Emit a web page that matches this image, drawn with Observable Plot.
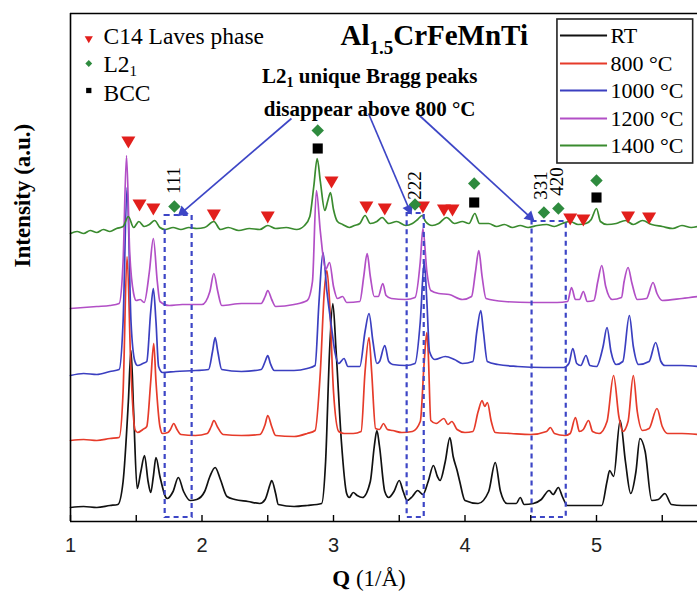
<!DOCTYPE html>
<html>
<head>
<meta charset="utf-8">
<script src="https://cdn.jsdelivr.net/npm/d3@7"></script>
<script src="https://cdn.jsdelivr.net/npm/@observablehq/plot@0.6"></script>
<style>
  html, body { margin: 0; padding: 0; background: #fff; }
  #chart { width: 697px; height: 594px; }
</style>
</head>
<body>
<div id="chart"></div>
<script>
// ---- Data (Q in 1/Å, intensity in arbitrary units incl. vertical offset) ----
const rt = [[1.00,14],[1.10,15],[1.20,14],[1.30,16],[1.36,17],[1.40,40],[1.44,120],[1.46,171],[1.48,110],[1.507,33],[1.535,50],[1.563,66],[1.59,40],[1.61,29],[1.63,45],[1.65,64],[1.68,45],[1.735,23],[1.78,30],[1.82,44],[1.86,30],[1.91,21],[1.96,22],[2.02,30],[2.06,45],[2.10,54],[2.14,42],[2.19,25],[2.25,22],[2.35,20],[2.44,18],[2.48,22],[2.52,38],[2.53,41],[2.56,28],[2.58,17],[2.70,15],[2.80,16],[2.91,18],[2.94,60],[2.97,170],[2.995,218],[3.02,170],[3.06,80],[3.10,28],[3.12,24],[3.15,29],[3.18,26],[3.22,24],[3.28,40],[3.31,75],[3.33,91],[3.35,75],[3.39,30],[3.42,24],[3.46,30],[3.50,41],[3.53,30],[3.56,21],[3.60,25],[3.64,31],[3.68,27],[3.72,40],[3.76,56],[3.79,45],[3.81,41],[3.85,60],[3.885,84],[3.91,65],[3.94,51],[3.96,40],[4.00,21],[4.10,18],[4.18,30],[4.23,59],[4.27,30],[4.32,18],[4.39,18],[4.42,24],[4.45,17],[4.52,18],[4.58,22],[4.64,31],[4.67,27],[4.71,34],[4.74,25],[4.78,16],[4.90,16],[5.04,16],[5.08,40],[5.10,51],[5.13,45],[5.18,101],[5.22,60],[5.26,28],[5.30,50],[5.33,83],[5.37,70],[5.42,21],[5.47,22],[5.52,28],[5.57,17],[5.65,16],[5.77,16]];
const c800 = [[1.00,81],[1.10,82],[1.20,81],[1.30,83],[1.37,84],[1.40,130],[1.43,265],[1.46,150],[1.49,92],[1.51,89],[1.55,92],[1.58,95],[1.61,140],[1.633,178],[1.65,140],[1.68,95],[1.70,88],[1.74,89],[1.76,92],[1.785,98],[1.81,92],[1.84,87],[1.95,86],[2.04,88],[2.07,95],[2.09,101],[2.12,94],[2.16,87],[2.30,86],[2.44,87],[2.48,97],[2.50,106],[2.53,95],[2.56,86],[2.70,85],[2.80,88],[2.86,91],[2.90,150],[2.93,230],[2.95,251],[2.97,220],[3.00,130],[3.04,90],[3.08,88],[3.15,88],[3.21,90],[3.24,150],[3.27,184],[3.29,150],[3.32,93],[3.35,92],[3.38,98],[3.41,92],[3.45,91],[3.52,89],[3.60,90],[3.66,100],[3.69,160],[3.71,189],[3.72,170],[3.74,101],[3.78,98],[3.84,103],[3.87,97],[3.90,100],[3.94,92],[4.00,89],[4.06,90],[4.10,110],[4.13,121],[4.15,115],[4.17,119],[4.20,100],[4.23,89],[4.35,88],[4.50,87],[4.62,90],[4.65,94],[4.68,88],[4.76,86],[4.80,88],[4.84,104],[4.87,90],[4.90,92],[4.94,101],[4.97,90],[5.02,88],[5.08,100],[5.13,146],[5.17,105],[5.20,90],[5.24,100],[5.28,146],[5.31,110],[5.35,91],[5.40,93],[5.46,113],[5.50,95],[5.54,88],[5.65,88],[5.77,87]];
const c1000 = [[1.00,146],[1.10,148],[1.20,147],[1.30,150],[1.37,152],[1.40,200],[1.43,334],[1.46,200],[1.49,160],[1.51,156],[1.55,158],[1.58,160],[1.61,210],[1.63,233],[1.65,200],[1.67,155],[1.70,149],[1.80,150],[1.95,151],[2.05,152],[2.08,170],[2.10,184],[2.12,170],[2.15,152],[2.30,150],[2.45,152],[2.48,160],[2.50,166],[2.52,158],[2.55,151],[2.70,151],[2.80,153],[2.86,156],[2.89,220],[2.92,269],[2.95,230],[2.985,194],[3.01,170],[3.04,158],[3.08,163],[3.11,155],[3.20,155],[3.24,190],[3.27,208],[3.30,180],[3.33,158],[3.35,160],[3.39,176],[3.42,160],[3.45,157],[3.55,156],[3.62,158],[3.66,200],[3.69,260],[3.71,220],[3.73,170],[3.77,162],[3.85,165],[3.92,162],[3.98,158],[4.06,160],[4.09,190],[4.12,211],[4.14,190],[4.17,160],[4.25,157],[4.40,155],[4.60,154],[4.75,154],[4.79,158],[4.82,173],[4.85,158],[4.88,156],[4.92,166],[4.95,156],[5.00,155],[5.05,175],[5.08,194],[5.11,170],[5.15,157],[5.20,160],[5.25,206],[5.28,175],[5.32,157],[5.40,160],[5.45,179],[5.49,160],[5.52,156],[5.65,156],[5.77,155]];
const c1200 = [[1.00,213],[1.10,214],[1.20,215],[1.30,216],[1.37,218],[1.40,260],[1.426,366],[1.45,270],[1.48,228],[1.50,221],[1.53,222],[1.56,219],[1.60,250],[1.63,283],[1.66,240],[1.68,220],[1.75,216],[1.85,217],[2.00,217],[2.06,230],[2.09,248],[2.12,230],[2.15,216],[2.30,218],[2.45,218],[2.48,225],[2.50,231],[2.53,222],[2.56,215],[2.70,217],[2.80,221],[2.84,240],[2.87,331],[2.90,290],[2.94,252],[2.97,259],[3.00,235],[3.03,223],[3.07,225],[3.10,219],[3.20,220],[3.23,245],[3.256,268],[3.28,245],[3.31,225],[3.34,225],[3.375,238],[3.40,226],[3.44,223],[3.55,222],[3.62,224],[3.66,260],[3.68,293],[3.71,250],[3.74,231],[3.80,228],[3.88,227],[3.98,222],[4.05,225],[4.08,250],[4.105,271],[4.13,245],[4.16,223],[4.30,220],[4.50,219],[4.70,219],[4.78,220],[4.81,234],[4.84,222],[4.87,222],[4.90,230],[4.93,220],[4.98,221],[5.01,240],[5.04,256],[5.07,235],[5.12,222],[5.19,224],[5.21,240],[5.24,254],[5.27,238],[5.31,222],[5.38,223],[5.43,239],[5.46,228],[5.50,221],[5.65,223],[5.77,225]];
const c1400 = [[1.00,288],[1.05,290],[1.10,288],[1.15,291],[1.20,289],[1.25,292],[1.30,290],[1.35,293],[1.40,295],[1.44,305],[1.48,294],[1.52,300],[1.56,295],[1.60,297],[1.64,301],[1.68,294],[1.72,292],[1.78,294],[1.84,292],[1.90,294],[1.96,293],[2.02,294],[2.09,300],[2.14,292],[2.20,294],[2.28,291],[2.36,293],[2.44,292],[2.50,296],[2.56,293],[2.64,294],[2.72,292],[2.78,296],[2.82,305],[2.85,335],[2.876,363],[2.90,340],[2.934,311],[2.955,320],[2.977,329],[3.00,312],[3.03,300],[3.07,297],[3.12,294],[3.16,296],[3.20,298],[3.24,306],[3.28,298],[3.33,300],[3.37,304],[3.42,298],[3.48,300],[3.55,296],[3.60,298],[3.64,302],[3.674,306],[3.70,300],[3.75,296],[3.80,298],[3.86,304],[3.92,298],[3.98,300],[4.03,298],[4.075,308],[4.11,298],[4.18,298],[4.24,295],[4.30,297],[4.36,294],[4.42,296],[4.48,294],[4.55,296],[4.62,297],[4.68,295],[4.74,298],[4.80,300],[4.86,297],[4.92,298],[4.96,302],[5.00,313],[5.03,300],[5.08,297],[5.15,298],[5.22,301],[5.28,297],[5.35,301],[5.42,297],[5.50,295],[5.58,293],[5.65,296],[5.72,294],[5.77,295]];

const seriesNames = ["RT", "800 °C", "1000 °C", "1200 °C", "1400 °C"];
const seriesColors = ["#111111", "#e63b2a", "#3b3fc0", "#b24fc6", "#3a8b2f"];
const seriesData = [rt, c800, c1000, c1200, c1400];

// phase markers [Q, y]
const laves = [[1.44,381],[1.525,318],[1.63,314],[2.09,308],[2.50,306],[2.985,341],[3.25,316],[3.39,314],[3.68,316],[3.84,313],[3.905,313],[4.80,304],[4.90,303],[5.24,306],[5.40,305]];
const l21 = [[1.79,315],[2.88,391],[3.62,317],[4.07,338],[4.60,309],[4.71,313],[5.00,341]];
const bcc = [[2.88,373],[4.07,319],[5.00,324]];

// Miller index labels [Q, y, text]
const hkl = [[1.79,341,"111"],[3.62,336,"222"],[4.575,336,"331"],[4.70,340,"420"]];

// dashed boxes [Q1, Q2, yTop]
const boxes = [[1.72,1.925,306],[3.56,3.69,308],[4.51,4.77,300]];
// arrows [Q1, y1, Q2, y2]
const arrows = [[2.68,403,1.83,307],[3.266,408,3.586,309],[3.637,408,4.515,302]];

const xTicks = [1, 2, 3, 4, 5];
const xMinor = [1.5, 2.5, 3.5, 4.5, 5.5];

const SERIF = "Liberation Serif, Times New Roman, serif";
const SANS = "Liberation Sans, Arial, sans-serif";
const BLUE = "#3d46c6";

// legend (lines) geometry in data units
const legBox = {x1: 4.703, x2: 5.735, y1: 358, y2: 502};
const legY = [486, 458, 431, 403, 376];

// x scale: px per unit Q (for arrow-head orientation)
const PXQ = 131.5;
function headAngle(d) {
  const dx = (d[2] - d[0]) * PXQ, dy = -(d[3] - d[1]);
  return Math.atan2(dx, -dy) * 180 / Math.PI;
}
function headBack(d, k) {
  const dx = (d[2] - d[0]) * PXQ, dy = (d[3] - d[1]);
  const L = Math.hypot(dx, dy);
  return [d[2] - (dx / L) * k / PXQ, d[3] - (dy / L) * k];
}

const marks = [];
// curves
seriesData.forEach((d, i) => {
  marks.push(Plot.line(d, {x: p => p[0], y: p => p[1], stroke: seriesColors[i], strokeWidth: 1.7, curve: "monotone-x"}));
});
// dashed boxes
marks.push(Plot.rect(boxes, {x1: d => d[0], x2: d => d[1], y1: 4, y2: d => d[2], fill: "none", stroke: BLUE, strokeWidth: 2.2, strokeDasharray: "5,4"}));
// arrows (shaft + filled head)
marks.push(Plot.link(arrows, {x1: d => d[0], y1: d => d[1], x2: d => headBack(d, 6)[0], y2: d => headBack(d, 6)[1], stroke: BLUE, strokeWidth: 1.7}));
marks.push(Plot.dot(arrows, {x: d => headBack(d, 4)[0], y: d => headBack(d, 4)[1], symbol: "triangle", r: 4.2, fill: BLUE, rotate: d => headAngle(d)}));
// markers
marks.push(Plot.dot(laves, {x: d => d[0], y: d => d[1], symbol: "triangle", r: 5.2, fill: "#e21f1c", rotate: 180}));
marks.push(Plot.dot(l21, {x: d => d[0], y: d => d[1], symbol: "diamond2", r: 5.6, fill: "#2e8b3e"}));
marks.push(Plot.dot(bcc, {x: d => d[0], y: d => d[1], symbol: "square", r: 5.7, fill: "#000"}));
// hkl labels
marks.push(Plot.text(hkl, {x: d => d[0], y: d => d[1], text: d => d[2], rotate: -90, fontSize: 19, fontFamily: SERIF, textAnchor: "middle", lineAnchor: "middle", fill: "#000"}));
// frame
marks.push(Plot.ruleY([0, 508], {stroke: "#000", strokeWidth: 1.6}));
marks.push(Plot.ruleX([1], {stroke: "#000", strokeWidth: 1.6}));
// ticks (inward)
marks.push(Plot.ruleX(xTicks.concat(xMinor), {x: d => d, y1: 0, y2: 6, stroke: "#000", strokeWidth: 1.4}));
// tick labels
marks.push(Plot.text(xTicks, {x: d => d, y: 0, text: d => String(d), dy: 24, fontSize: 20, fontFamily: SANS, fill: "#222", lineAnchor: "middle"}));
// axis titles
marks.push(Plot.text(["Q (1/Å)"], {x: () => 3.27, frameAnchor: "bottom", dy: 57, text: d => d, fontSize: 23, fontWeight: "bold", fontFamily: SERIF, lineAnchor: "middle", fill: "#000"}));
marks.push(Plot.text(["Intensity (a.u.)"], {frameAnchor: "left", dx: -48, rotate: -90, text: d => d, fontSize: 23, fontWeight: "bold", fontFamily: SERIF, lineAnchor: "middle", fill: "#000"}));
// title
marks.push(Plot.text(["Al1.5CrFeMnTi"], {x: () => 3.053, y: () => 477, text: d => d, textAnchor: "start", lineAnchor: "bottom", fontSize: 29, fontWeight: "bold", fontFamily: SERIF, fill: "#000"}));
// annotation
marks.push(Plot.text(["L21 unique Bragg peaks", "disappear above 800 °C"], {x: () => 3.275, y: (d, i) => [439, 406][i], text: d => d, textAnchor: "middle", lineAnchor: "bottom", fontSize: 21, fontWeight: "bold", fontFamily: SERIF, fill: "#000"}));
// phase legend (top-left)
const phaseLegend = [
  {sym: "triangle", fill: "#e21f1c", rot: 180, r: 5.2, y: 483, ty: 478, label: "C14 Laves phase"},
  {sym: "diamond2", fill: "#2e8b3e", rot: 0, r: 5.4, y: 458, ty: 450, label: "L21"},
  {sym: "square", fill: "#000", rot: 0, r: 5.0, y: 431, ty: 421, label: "BCC"}
];
marks.push(Plot.dot(phaseLegend, {x: () => 1.139, y: d => d.y, symbol: d => d.sym, fill: d => d.fill, r: d => d.r, rotate: d => d.rot}));
marks.push(Plot.text(phaseLegend, {x: () => 1.251, y: d => d.ty, text: d => d.label, textAnchor: "start", lineAnchor: "bottom", fontSize: 23.5, fontFamily: SERIF, fill: "#000"}));
// series legend (top-right)
marks.push(Plot.rect([legBox], {x1: d => d.x1, x2: d => d.x2, y1: d => d.y1, y2: d => d.y2, fill: "#fff", stroke: "#222", strokeWidth: 1.6}));
marks.push(Plot.ruleY(seriesNames, {y: (d, i) => legY[i], x1: 4.726, x2: 5.084, stroke: (d, i) => seriesColors[i], strokeWidth: 1.8}));
marks.push(Plot.text(seriesNames, {x: () => 5.106, y: (d, i) => legY[i] - 7, text: d => d, textAnchor: "start", lineAnchor: "bottom", fontSize: 22, fontFamily: SERIF, fill: "#000"}));

const svg = Plot.plot({
  width: 697,
  height: 594,
  marginLeft: 70,
  marginRight: 0,
  marginTop: 13,
  marginBottom: 73,
  x: {domain: [1, 1 + 627 / PXQ], axis: null},
  y: {domain: [0, 508], axis: null},
  color: {type: "identity"},
  style: {background: "#fff", fontFamily: SERIF},
  marks
});

// subscripts
function sub(el, parts) {
  el.textContent = "";
  parts.forEach(p => {
    const t = document.createElementNS("http://www.w3.org/2000/svg", "tspan");
    t.textContent = p.t;
    if (p.size) t.setAttribute("font-size", p.size);
    if (p.dy) t.setAttribute("dy", p.dy);
    if (p.weight) t.setAttribute("font-weight", p.weight);
    el.appendChild(t);
  });
}
d3.select(svg).selectAll("text").each(function() {
  const s = this.textContent;
  if (s === "Al1.5CrFeMnTi") sub(this, [{t: "Al"}, {t: "1.5", size: 19, dy: 9}, {t: "CrFeMnTi", dy: -9}]);
  else if (s === "L21 unique Bragg peaks") sub(this, [{t: "L2"}, {t: "1", size: 14, dy: 4}, {t: " unique Bragg peaks", dy: -4}]);
  else if (s === "L21") sub(this, [{t: "L2"}, {t: "1", size: 15, dy: 4}]);
  else if (s === "Q (1/Å)") sub(this, [{t: "Q"}, {t: " (1/Å)", weight: "normal"}]);
});

document.getElementById("chart").appendChild(svg);
</script>
</body>
</html>
